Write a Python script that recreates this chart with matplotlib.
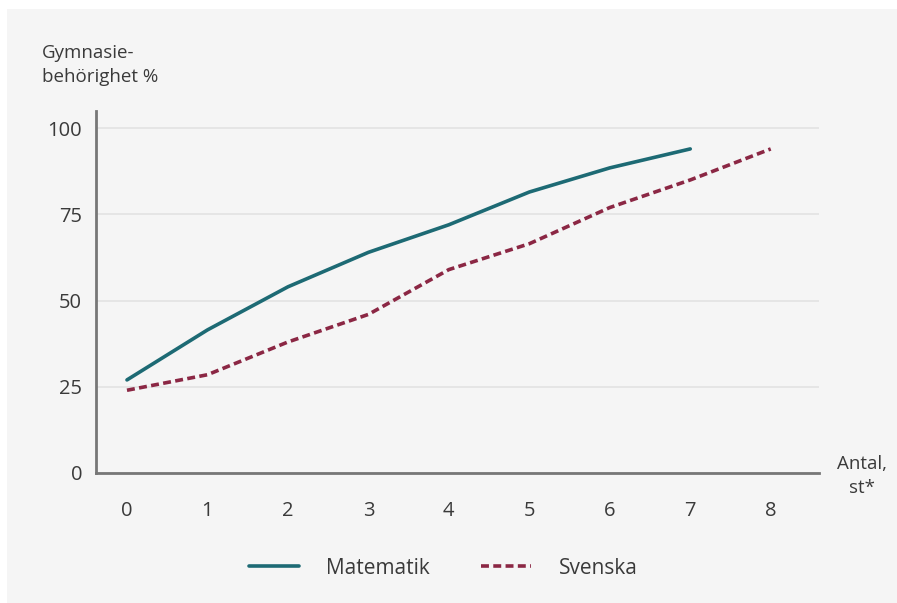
import matplotlib.pyplot as plt
from matplotlib.patches import Rectangle

# data
antal = [0, 1, 2, 3, 4, 5, 6, 7, 8]
matematik = [27, 41.5, 54, 64, 72, 81.5, 88.5, 94]
svenska = [24, 28.5, 38, 46, 59, 66.5, 77, 85, 94]
yticks = [0, 25, 50, 75, 100]

teal = "#1d6a74"
maroon = "#8b2744"
txt = "#3a3a3a"
bg = "#f5f5f5"

plt.rcParams['font.family'] = ['Open Sans', 'DejaVu Sans']

fig = plt.figure(figsize=(8.97, 6.03), dpi=100)
fig.patch.set_facecolor("white")
fig.add_artist(Rectangle((7 / 897, -0.5), 2, 1.5 - 9 / 603, transform=fig.transFigure,
                         facecolor=bg, edgecolor="none", zorder=-10))

ax = fig.add_axes([96 / 897, 130 / 603, 723 / 897, 362 / 603])
ax.set_facecolor("none")

ax.plot(antal[:len(matematik)], matematik, color=teal, lw=2.6, solid_capstyle="round",
        label="Matematik")
ax.plot(antal, svenska, color=maroon, lw=2.6, linestyle=(0, (2.2, 1.2)),
        label="Svenska")

ax.set_xlim(-0.385, 8.6)
ax.set_ylim(0, 105)
ax.set_yticks(yticks)
ax.set_xticks(antal)
ax.grid(axis="y", color="#e2e2e2", lw=1.2)
ax.set_axisbelow(True)
for s in ["top", "right"]:
    ax.spines[s].set_visible(False)
for s in ["left", "bottom"]:
    ax.spines[s].set_color("#777777")
    ax.spines[s].set_linewidth(2)
ax.tick_params(length=0, labelsize=14.5, colors=txt)
ax.tick_params(axis="y", pad=10)
ax.tick_params(axis="x", pad=20)

fig.text(42 / 897, 1 - 65 / 603, "Gymnasie-\nbehörighet %", ha="left", va="center",
         fontsize=13.5, color=txt, linespacing=1.4)
fig.text(862 / 897, 1 - 476 / 603, "Antal,\nst*", ha="center", va="center",
         fontsize=13.5, color=txt, linespacing=1.4)

fig.legend(loc="center", bbox_to_anchor=(443 / 897, 1 - 568 / 603), ncol=2,
           frameon=False, fontsize=15, handlelength=2.4, handletextpad=1.3,
           columnspacing=2.5, labelcolor=txt)

fig.savefig("out.png", dpi=100, facecolor=fig.get_facecolor())
